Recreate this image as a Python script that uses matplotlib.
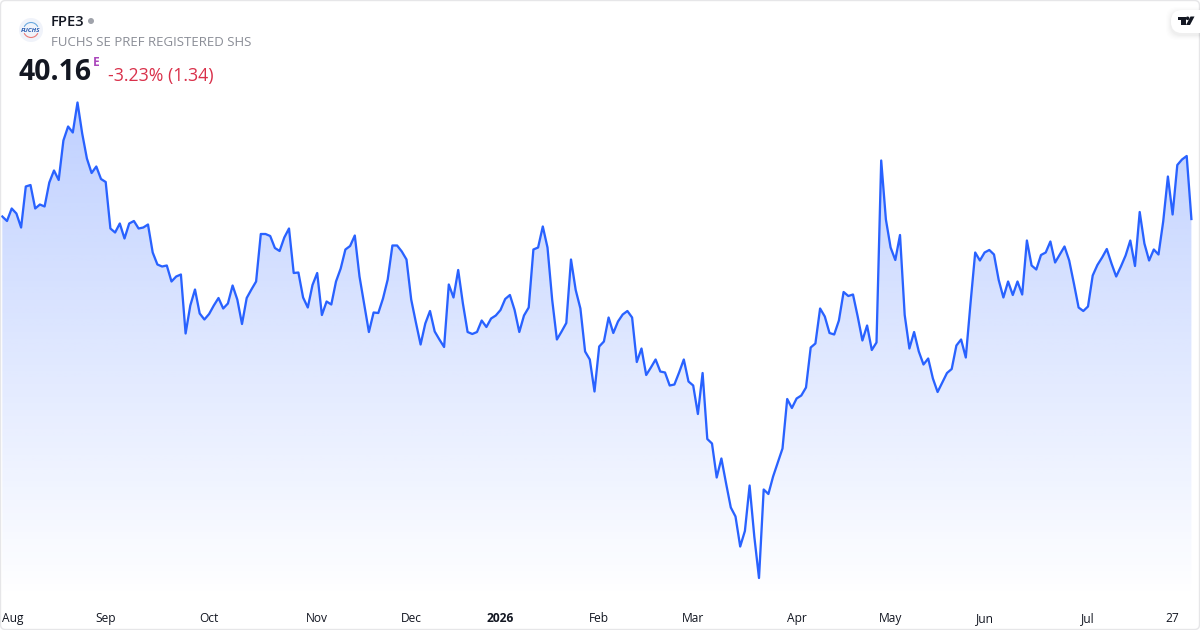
import numpy as np
import matplotlib
matplotlib.use("Agg")
import matplotlib.pyplot as plt
from matplotlib.patches import Circle, FancyBboxPatch, Polygon, Arc

plt.rcParams['font.family'] = ['Open Sans', 'DejaVu Sans']

prices_aug_oct = [40.21,40.12,40.37,40.27,39.99,40.81,40.84,40.37,40.45,40.41,40.89,41.13,40.94,41.73,42.01,41.89,42.49,41.87,41.37,41.08,41.21,40.96,40.90,39.97,39.89,40.07,39.77,40.07,40.12,39.97,39.99,40.05,39.49,39.25,39.21,39.23,38.91,39.01,39.05,37.87,38.43,38.75,38.27,38.15,38.26,38.43,38.58,38.37,38.47,38.83,38.55,38.06,38.58,38.75,38.91,39.86,39.86,39.82,39.58,39.52,39.79,39.97,39.08,39.09]
prices_oct_jan = [38.59,38.39,38.84,39.08,38.24,38.51,38.45,38.91,39.17,39.55,39.62,39.83,39.01,38.45,37.90,38.29,38.28,38.57,38.95,39.63,39.63,39.51,39.35,38.55,38.09,37.65,38.07,38.32,37.91,37.75,37.60,38.85,38.59,39.14,38.47,37.90,37.86,37.90,38.13,38.00,38.17,38.23,38.34,38.56,38.64,38.34,37.90,38.23,38.39,39.55,39.59,40.01,39.59,38.54,37.75,37.91,38.08,39.35,38.74,38.37,37.51,37.35,36.71,37.61]
prices_feb_apr = [37.71,38.19,37.88,38.11,38.25,38.32,38.19,37.30,37.57,37.04,37.19,37.35,37.11,37.09,36.83,36.85,37.09,37.35,36.91,36.83,36.26,37.08,35.76,35.67,34.99,35.37,34.87,34.39,34.21,33.61,33.92,34.83,33.81,32.98,34.75,34.66,35.01,35.29,35.57,36.56,36.38,36.57,36.63,36.79,37.59,37.67,38.37,38.21,37.88,37.85,38.13,38.70,38.62,38.65,38.21]
prices_apr_jul = [37.73,38.03,37.54,37.69,41.33,40.15,39.59,39.34,39.84,38.24,37.57,37.90,37.51,37.25,37.37,36.97,36.70,36.89,37.08,37.16,37.63,37.75,37.39,38.47,39.49,39.33,39.49,39.54,39.45,38.94,38.59,38.91,38.64,38.91,38.65,39.73,39.23,39.15,39.44,39.49,39.71,39.29,39.45,39.61,39.33,38.87,38.39,38.32,38.41,39.03,39.24,39.39,39.56,39.27,39.01,39.21,39.43,39.73,39.22,40.30,39.67,39.33,39.55,39.45,40.11,41.01,40.25,41.24,41.35,41.42,40.16]
prices = np.array(prices_aug_oct + prices_oct_jan + prices_feb_apr + prices_apr_jul)

tick_idx = [0, 22, 44, 67, 87, 106, 127, 147, 169, 189, 209, 231, 249]
tick_labels = ['Aug','Sep','Oct','Nov','Dec','2026','Feb','Mar','Apr','May','Jun','Jul','27']

W, H = 1200, 630
BLUE = '#2962ff'
TICK = '#131722'

fig = plt.figure(figsize=(12, 6.3), dpi=100, facecolor='white')
ax = fig.add_axes([0, (H-598)/H, 1, 598/H])
x = np.arange(len(prices))
ax.set_xlim(-0.489, 254.83)
ax.set_ylim(32.58, 44.54)

# gradient area under the line
grad = np.zeros((256, 2, 4))
grad[..., 0] = 41/255; grad[..., 1] = 98/255; grad[..., 2] = 1
grad[..., 3] = np.linspace(0.30, 0.0, 256)[:, None]
im = ax.imshow(grad, aspect='auto', origin='upper', zorder=1,
               extent=[x[0], x[-1], 32.58, prices.max()], interpolation='bilinear')
clip = Polygon(np.vstack([np.column_stack([x, prices]), [x[-1], 32.58], [x[0], 32.58]]),
               closed=True, transform=ax.transData, fc='none', ec='none')
ax.add_patch(clip)
im.set_clip_path(clip)
ax.set_xlim(-0.489, 254.83)
ax.set_ylim(32.58, 44.54)

ax.plot(x, prices, color=BLUE, lw=1.65, zorder=2, solid_joinstyle='round')

ax.set_yticks([])
ax.set_xticks(tick_idx)
ax.set_xticklabels(tick_labels, fontsize=8.64, color=TICK)
ax.tick_params(axis='x', length=0, pad=10)
for s in ax.spines.values():
    s.set_visible(False)
labels = ax.get_xticklabels()
labels[0].set_ha('left')
labels[0].set_x(-0.4)
labels[5].set_fontweight('bold')

# header and card furniture in pixel coordinates
ov = fig.add_axes([0, 0, 1, 1], facecolor='none')
ov.set_xlim(0, W); ov.set_ylim(H, 0); ov.axis('off')

ov.add_patch(FancyBboxPatch((0.5, 0.5), W-1, H-1, boxstyle='round,pad=0,rounding_size=5',
                            fc='none', ec='#e6e6e8', lw=1.0))

# logo
ov.add_patch(Circle((31, 30), 12, fc='#f0f3fa', ec='none'))
ov.add_patch(Arc((31, 30), 15, 15, theta1=205, theta2=335, color='#6aa9df', lw=0.8))
ov.add_patch(Arc((31, 30), 15, 15, theta1=25, theta2=155, color='#ea7a76', lw=0.8))
ov.text(31, 30, 'FUCHS', fontsize=4.6, fontweight='bold', style='italic', color='#2a5db0',
        ha='center', va='center')

ov.text(51, 22, 'FPE3', fontsize=10.6, fontweight='semibold', color='#131722', va='center')
ov.add_patch(Circle((91, 21), 3, fc='#a0a3ab', ec='none'))
ov.text(51, 42.5, 'FUCHS SE PREF REGISTERED SHS', fontsize=9.5, color='#8a8d96', va='center')
ov.text(18.5, 73, '40.16', fontsize=20.4, fontweight='bold', color='#131722', va='center')
ov.text(93, 62, 'E', fontsize=8.6, fontweight='bold', color='#ab47bc', va='center')
ov.text(108, 76, '-3.23% (1.34)', fontsize=12.8, color='#d9304a', va='center')

# watermark pill
for grow, alpha in [(5, 0.006), (4, 0.008), (3, 0.01), (2, 0.014), (1, 0.018)]:
    ov.add_patch(FancyBboxPatch((1171-grow, 10-grow+2), 40+2*grow, 23+2*grow,
                 boxstyle='round,pad=0,rounding_size=11', fc='black', alpha=alpha, ec='none',
                 lw=0))
ov.add_patch(FancyBboxPatch((1171, 10), 40, 23, boxstyle='round,pad=0,rounding_size=11',
                            fc='white', ec='none', lw=0))
ov.add_patch(Polygon([(1177.5,16.5),(1185.5,16.5),(1185.5,25),(1181,25),(1181,20),(1177.5,20)], fc='#131722', ec='none'))
ov.add_patch(Circle((1187.6, 18.3), 1.8, fc='#131722', ec='none'))
ov.add_patch(Polygon([(1190.5,16.5),(1194.5,16.5),(1190,25),(1186,25)], fc='#131722', ec='none'))

fig.savefig('out.png', dpi=100, facecolor='white')
